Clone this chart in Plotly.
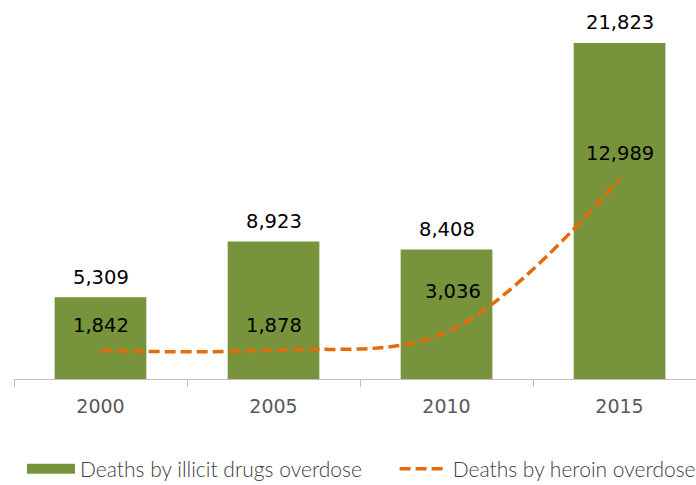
import plotly.graph_objects as go

years = ["2000", "2005", "2010", "2015"]
illicit = [5309, 8923, 8408, 21823]
heroin = [1842, 1878, 3036, 12989]

bar_color = "#77933C"
line_color = "#E46C0A"
num_font = dict(family="DejaVu Sans", size=19.5, color="#000000")
legend_font = dict(family="Lato", size=21, color="#404040", weight=300)

fig = go.Figure()
fig.add_trace(go.Bar(
    x=years, y=illicit, name="Deaths by illicit drugs overdose",
    marker=dict(color=bar_color, line=dict(width=0)), width=0.53,
    showlegend=False,
))
# legend proxy for the bar series (wide rectangle swatch)
fig.add_trace(go.Scatter(
    x=[None], y=[None], name="Deaths by illicit drugs overdose", mode="lines",
    line=dict(color=bar_color, width=11), legend="legend",
))
fig.add_trace(go.Scatter(
    x=years, y=heroin, name="Deaths by heroin overdose", mode="lines",
    line=dict(color=line_color, width=3.5, dash="11px,5px", shape="spline", smoothing=1.0),
    legend="legend2",
))

ann = []
for i, v in enumerate(illicit):
    ann.append(dict(x=i, y=v, xref="x", yref="y", text=f"{v:,}", showarrow=False,
                    yshift=20, font=num_font, xanchor="center", yanchor="middle"))
heroin_shift = [25, 25, 41, 26]
heroin_xshift = [0, 0, 6, 0]
for i, (v, s, xs) in enumerate(zip(heroin, heroin_shift, heroin_xshift)):
    ann.append(dict(x=i, y=v, xref="x", yref="y", text=f"{v:,}", showarrow=False,
                    yshift=s, xshift=xs, font=num_font, xanchor="center", yanchor="middle"))

fig.update_layout(
    width=696, height=485,
    margin=dict(l=14, r=0, t=0, b=106, autoexpand=False),
    paper_bgcolor="white", plot_bgcolor="white",
    annotations=ann,
    showlegend=True,
    legend=dict(orientation="h", xref="container", x=0.0316, xanchor="left",
                yref="container", y=0.075, yanchor="top",
                font=legend_font, itemwidth=48),
    legend2=dict(orientation="h", xref="container", x=0.567, xanchor="left",
                 yref="container", y=0.075, yanchor="top",
                 font=legend_font, itemwidth=48),
)
fig.update_xaxes(
    type="category", range=[-0.5, 3.442],
    showline=True, linecolor="#BFBFBF", linewidth=1,
    ticks="outside", tickson="boundaries", ticklen=7, tickcolor="#BFBFBF",
    tickfont=dict(family="DejaVu Sans", size=19, color="#595959"),
    ticklabelstandoff=10,
    showgrid=False,
)
fig.update_yaxes(range=[0, 24615], visible=False, showgrid=False)

fig.write_html("out.html", config={"displayModeBar": False},
               post_script="document.body.style.margin='0';document.body.style.overflow='hidden';")
